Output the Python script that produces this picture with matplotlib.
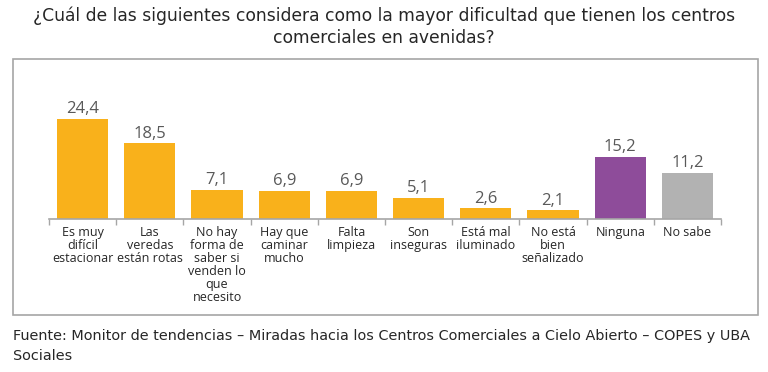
import matplotlib
matplotlib.use("Agg")
import matplotlib.pyplot as plt
from matplotlib.patches import Rectangle

categories = [
    "Es muy\ndifícil\nestacionar",
    "Las\nveredas\nestán rotas",
    "No hay\nforma de\nsaber si\nvenden lo\nque\nnecesito",
    "Hay que\ncaminar\nmucho",
    "Falta\nlimpieza",
    "Son\ninseguras",
    "Está mal\niluminado",
    "No está\nbien\nseñalizado",
    "Ninguna",
    "No sabe",
]
values = [24.4, 18.5, 7.1, 6.9, 6.9, 5.1, 2.6, 2.1, 15.2, 11.2]
labels = ["24,4", "18,5", "7,1", "6,9", "6,9", "5,1", "2,6", "2,1", "15,2", "11,2"]
colors = ["#F9B11B"] * 8 + ["#8E4C9A", "#B2B2B2"]

title = "¿Cuál de las siguientes considera como la mayor dificultad que tienen los centros\ncomerciales en avenidas?"
source_1 = "Fuente: Monitor de tendencias – Miradas hacia los Centros Comerciales a Cielo Abierto – COPES y UBA"
source_2 = "Sociales"

plt.rcParams["font.family"] = ["Open Sans", "DejaVu Sans"]

W, H = 768, 372
fig = plt.figure(figsize=(W / 100, H / 100), dpi=100)

# frame around the chart
fig.patches.append(Rectangle((13 / W, 1 - 315 / H), (758 - 13) / W, (315 - 59) / H,
                             transform=fig.transFigure, fill=False,
                             edgecolor="#A6A6A6", linewidth=1.2))

fig.text(0.5, 1 - 27 / H, title, ha="center", va="center", fontsize=12.3,
         color="#262626", linespacing=1.3, family="DejaVu Sans")
fig.text(13 / W, 1 - 336 / H, source_1, ha="left", va="center", fontsize=10.35,
         color="#262626", family="DejaVu Sans")
fig.text(13 / W, 1 - 356 / H, source_2, ha="left", va="center", fontsize=10.35,
         color="#262626", family="DejaVu Sans")

ax = fig.add_axes([49 / W, 1 - 219 / H, (721 - 49) / W, (219 - 70) / H])
x = range(len(values))
bars = ax.bar(x, values, width=0.76, color=colors)
for b, lab in zip(bars, labels):
    ax.text(b.get_x() + b.get_width() / 2, b.get_height() + 0.4, lab,
            ha="center", va="bottom", fontsize=12, color="#595959")

ax.set_xlim(-0.5, len(values) - 0.5)
ax.set_ylim(0, (219 - 70) / 4.1)
for s in ["top", "right", "left"]:
    ax.spines[s].set_visible(False)
ax.spines["bottom"].set_color("#A6A6A6")
ax.spines["bottom"].set_linewidth(1.2)
ax.set_yticks([])
ax.set_xticks([i - 0.5 for i in range(len(values) + 1)])
ax.set_xticklabels([])
ax.tick_params(axis="x", length=4, color="#A6A6A6", width=1)
for i, c in enumerate(categories):
    ax.text(i, -1.7, c, ha="center", va="top", fontsize=9, color="#262626",
            linespacing=1.0)

fig.savefig("out.png", dpi=100)
